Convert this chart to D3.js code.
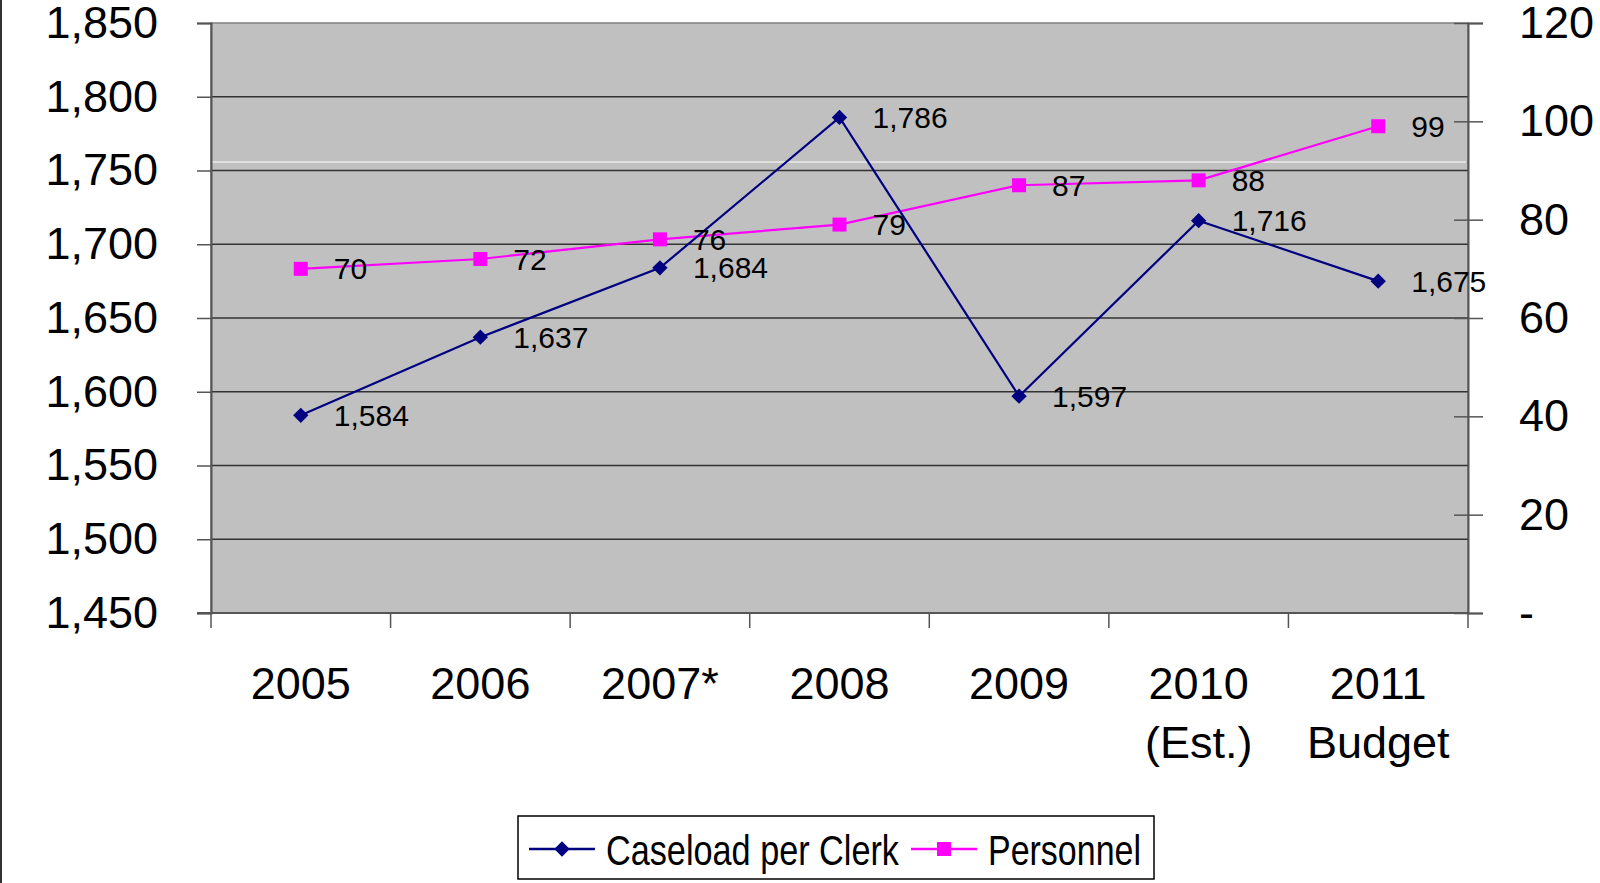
<!DOCTYPE html>
<html>
<head>
<meta charset="utf-8">
<script src="https://cdn.jsdelivr.net/npm/d3@7"></script>
<style>
  body { margin: 0; background: #fff; }
  svg { display: block; font-family: "Liberation Sans", Arial, sans-serif; }
</style>
</head>
<body>
<svg id="chart" width="1600" height="883"></svg>
<script>
const years = ["2005", "2006", "2007*", "2008", "2009", "2010\n(Est.)", "2011\nBudget"];
const caseload = [1584, 1637, 1684, 1786, 1597, 1716, 1675];
const personnel = [70, 72, 76, 79, 87, 88, 99];
const leftTicks = [1450, 1500, 1550, 1600, 1650, 1700, 1750, 1800, 1850];
const rightTicks = [0, 20, 40, 60, 80, 100, 120];

const NAVY = "#000080";
const MAGENTA = "#FF00FF";

const plot = { left: 211, right: 1468, top: 23, bottom: 613 };

const svg = d3.select("#chart");

const x = d3.scaleBand().domain(years).range([plot.left, plot.right]).padding(0);
const yLeft = d3.scaleLinear().domain([1450, 1850]).range([plot.bottom, plot.top]);
const yRight = d3.scaleLinear().domain([0, 120]).range([plot.bottom, plot.top]);

// left page border
svg.append("line")
  .attr("x1", 1).attr("x2", 1).attr("y1", 0).attr("y2", 883)
  .attr("stroke", "#333").attr("stroke-width", 2);

// plot background
svg.append("rect")
  .attr("x", plot.left).attr("y", plot.top)
  .attr("width", plot.right - plot.left).attr("height", plot.bottom - plot.top)
  .attr("fill", "#C0C0C0").attr("stroke", "#808080").attr("stroke-width", 1.5);

// gridlines
svg.append("g")
  .selectAll("line")
  .data(leftTicks.slice(1, -1))
  .join("line")
  .attr("x1", plot.left).attr("x2", plot.right)
  .attr("y1", d => yLeft(d)).attr("y2", d => yLeft(d))
  .attr("stroke", "#333").attr("stroke-width", 1.3);

// stray white line seen in the original
svg.append("line")
  .attr("x1", plot.left + 1).attr("x2", plot.right - 2)
  .attr("y1", 162).attr("y2", 162)
  .attr("stroke", "#fff").attr("stroke-width", 1);

// left axis
const gLeft = svg.append("g")
  .attr("transform", `translate(${plot.left},0)`)
  .call(d3.axisLeft(yLeft).tickValues(leftTicks).tickFormat(d3.format(",")).tickSize(14).tickPadding(39));
gLeft.select(".domain").attr("stroke", "#555").attr("stroke-width", 2);
gLeft.selectAll(".tick line").attr("stroke", "#555").attr("stroke-width", 1.5);
gLeft.selectAll(".tick text").attr("font-size", 45).attr("fill", "#000").attr("font-family", null);

// right axis
const gRight = svg.append("g")
  .attr("transform", `translate(${plot.right},0)`)
  .call(d3.axisRight(yRight).tickValues(rightTicks).tickFormat(d => d === 0 ? "-" : d).tickSize(15).tickPadding(36));
gRight.select(".domain").attr("stroke", "#555").attr("stroke-width", 2);
gRight.selectAll(".tick line").attr("x1", -14).attr("stroke", "#555").attr("stroke-width", 1.5);
gRight.selectAll(".tick text").attr("font-size", 45).attr("fill", "#000").attr("font-family", null);

// bottom axis: ticks at category boundaries
const boundaries = d3.range(years.length + 1).map(i => i === years.length ? plot.right : x(years[i]));
svg.append("g")
  .selectAll("line")
  .data(boundaries)
  .join("line")
  .attr("x1", d => d).attr("x2", d => d)
  .attr("y1", plot.bottom).attr("y2", plot.bottom + 15)
  .attr("stroke", "#555").attr("stroke-width", 1.5);
svg.append("line")
  .attr("x1", plot.left - 14).attr("x2", plot.right)
  .attr("y1", plot.bottom).attr("y2", plot.bottom)
  .attr("stroke", "#555").attr("stroke-width", 2);

const xLabels = svg.append("g")
  .selectAll("text")
  .data(years)
  .join("text")
  .attr("x", d => x(d) + x.bandwidth() / 2)
  .attr("y", 699)
  .attr("text-anchor", "middle")
  .attr("font-size", 45)
  .attr("fill", "#000");
xLabels.each(function(d) {
  const t = d3.select(this);
  d.split("\n").forEach((line, i) => {
    t.append("tspan")
      .attr("x", x(d) + x.bandwidth() / 2)
      .attr("dy", i === 0 ? 0 : 59)
      .text(line);
  });
});

const cx = (d, i) => x(years[i]) + x.bandwidth() / 2;

// personnel series
svg.append("path")
  .datum(personnel)
  .attr("fill", "none")
  .attr("stroke", MAGENTA)
  .attr("stroke-width", 2.2)
  .attr("d", d3.line().x(cx).y(d => yRight(d)));

svg.append("g")
  .selectAll("rect")
  .data(personnel)
  .join("rect")
  .attr("x", (d, i) => cx(d, i) - 7)
  .attr("y", d => yRight(d) - 7)
  .attr("width", 14).attr("height", 14)
  .attr("fill", MAGENTA);

// caseload series
svg.append("path")
  .datum(caseload)
  .attr("fill", "none")
  .attr("stroke", NAVY)
  .attr("stroke-width", 2.2)
  .attr("d", d3.line().x(cx).y(d => yLeft(d)));

const diamond = d3.symbol().type(d3.symbolDiamond2).size(150);
svg.append("g")
  .selectAll("path")
  .data(caseload)
  .join("path")
  .attr("transform", (d, i) => `translate(${cx(d, i)},${yLeft(d)})`)
  .attr("d", diamond)
  .attr("fill", NAVY);

// data labels
svg.append("g")
  .selectAll("text")
  .data(personnel)
  .join("text")
  .attr("x", (d, i) => cx(d, i) + 33)
  .attr("y", d => yRight(d) + 10.5)
  .attr("font-size", 30)
  .attr("fill", "#000")
  .text(d => d);

svg.append("g")
  .selectAll("text")
  .data(caseload)
  .join("text")
  .attr("x", (d, i) => cx(d, i) + 33)
  .attr("y", d => yLeft(d) + 10.5)
  .attr("font-size", 30)
  .attr("fill", "#000")
  .text(d => d3.format(",")(d));

// legend
const legend = svg.append("g");
legend.append("rect")
  .attr("x", 518).attr("y", 816).attr("width", 636).attr("height", 63)
  .attr("fill", "#fff").attr("stroke", "#000").attr("stroke-width", 1.5);

const legendItems = [
  { name: "Caseload per Clerk", color: NAVY, marker: "diamond", x0: 529, textX: 606, textW: 293 },
  { name: "Personnel", color: MAGENTA, marker: "square", x0: 911, textX: 988, textW: 153 }
];
legendItems.forEach(item => {
  legend.append("line")
    .attr("x1", item.x0).attr("x2", item.x0 + 66)
    .attr("y1", 849).attr("y2", 849)
    .attr("stroke", item.color).attr("stroke-width", 2.5);
  if (item.marker === "diamond") {
    legend.append("path")
      .attr("transform", `translate(${item.x0 + 33},849)`)
      .attr("d", diamond)
      .attr("fill", item.color);
  } else {
    legend.append("rect")
      .attr("x", item.x0 + 26).attr("y", 842).attr("width", 14).attr("height", 14)
      .attr("fill", item.color);
  }
  legend.append("text")
    .attr("x", item.textX).attr("y", 865)
    .attr("font-size", 42)
    .attr("textLength", item.textW)
    .attr("lengthAdjust", "spacingAndGlyphs")
    .attr("fill", "#000")
    .text(item.name);
});
</script>
</body>
</html>
